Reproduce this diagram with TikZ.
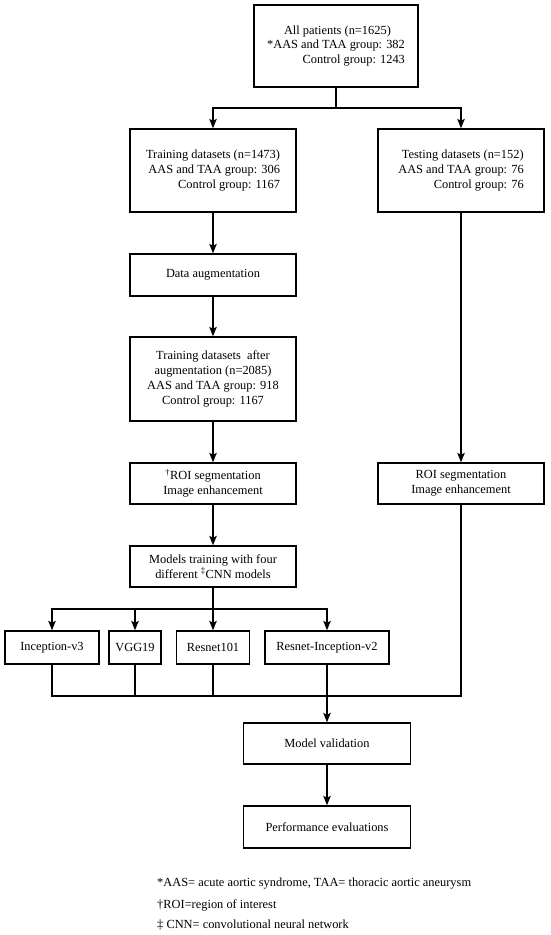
\documentclass[tikz,border=0pt]{standalone}
\usepackage{fontspec}
\setmainfont{Liberation Serif}
\usetikzlibrary{arrows.meta}
\begin{document}
\begin{tikzpicture}[x=1pt,y=-1pt,
  box/.style={draw, line width=1.3pt, inner sep=0pt, font=\fontsize{12.4}{14.8}\selectfont},
  arr/.style={line width=1.4pt, -{Stealth[length=9.5pt,width=7.5pt,inset=2pt]}},
  ln/.style={line width=1.4pt},
  fn/.style={anchor=west, inner sep=0pt, font=\fontsize{12.4}{14.8}\selectfont}]
\useasboundingbox[fill=white] (0,0) rectangle (550,935);
% boxes
\node[box, minimum width=164pt, minimum height=82pt, align=right] (top) at (336,46)
  {All patients (n=1625)\hspace*{14pt}\\ *AAS and TAA group: 382\\ Control group: 1243};
\node[box, minimum width=166pt, minimum height=83pt, align=right] (train) at (213,170.5)
  {Training datasets (n=1473)\\ AAS and TAA group: 306\\ Control group: 1167};
\node[box, minimum width=166pt, minimum height=83pt, align=right] (test) at (461,170.5)
  {Testing datasets (n=152)\\ AAS and TAA group: 76\\ Control group: 76};
\node[box, minimum width=166pt, minimum height=42pt] (aug) at (213,275) {Data augmentation};
\node[box, minimum width=166pt, minimum height=84pt, align=center] (trainaug) at (213,379)
  {Training datasets\ \ after\\ augmentation (n=2085)\\ AAS and TAA group: 918\\ Control group: 1167};
\node[box, minimum width=166pt, minimum height=41pt, align=center] (roiL) at (213,483.5)
  {\textsuperscript{†}ROI segmentation\\ Image enhancement};
\node[box, minimum width=166pt, minimum height=41pt, align=center] (roiR) at (461,483.5)
  {ROI segmentation\\ Image enhancement};
\node[box, minimum width=166pt, minimum height=41pt, align=center] (models) at (213,566.5)
  {Models training with four\\ different \textsuperscript{‡}CNN models};
\node[box, minimum width=94pt, minimum height=33pt] (incv) at (52,647.5) {Inception-v3};
\node[box, minimum width=52pt, minimum height=33pt] (vgg) at (135,647.5) {VGG19};
\node[box, minimum width=73pt, minimum height=33pt] (res) at (213,647.5) {Resnet101};
\node[box, minimum width=124pt, minimum height=33pt] (resinc) at (327,647.5) {Resnet-Inception-v2};
\node[box, minimum width=167pt, minimum height=41pt] (val) at (327,743.5) {Model validation};
\node[box, minimum width=167pt, minimum height=42pt] (perf) at (327,827) {Performance evaluations};
% connectors
\coordinate (s1) at (336,108);
\coordinate (s2) at (213,609);
\coordinate (j) at (327,696);
\draw[ln] (top.south) -- (s1);
\draw[arr] (s1) -| (train.north);
\draw[arr] (s1) -| (test.north);
\draw[arr] (train) -- (aug);
\draw[arr] (aug) -- (trainaug);
\draw[arr] (trainaug) -- (roiL);
\draw[arr] (roiL) -- (models);
\draw[arr] (test) -- (roiR);
\draw[ln] (models.south) -- (s2);
\draw[arr] (s2) -| (incv.north);
\draw[arr] (s2) -| (vgg.north);
\draw[arr] (s2) -- (res.north);
\draw[arr] (s2) -| (resinc.north);
\draw[ln] (incv.south) |- (j);
\draw[ln] (vgg.south) |- (j);
\draw[ln] (res.south) |- (j);
\draw[ln] (roiR.south) |- (j);
\draw[arr] (resinc.south) -- (val.north);
\draw[arr] (val) -- (perf);
% footnotes
\node[fn] (f1) at (157,884) {*AAS= acute aortic syndrome, TAA= thoracic aortic aneurysm};
\node[fn] (f2) at (157,905) {†ROI=region of interest};
\node[fn] (f3) at (157,925) {‡ CNN= convolutional neural network};
\end{tikzpicture}
\end{document}
